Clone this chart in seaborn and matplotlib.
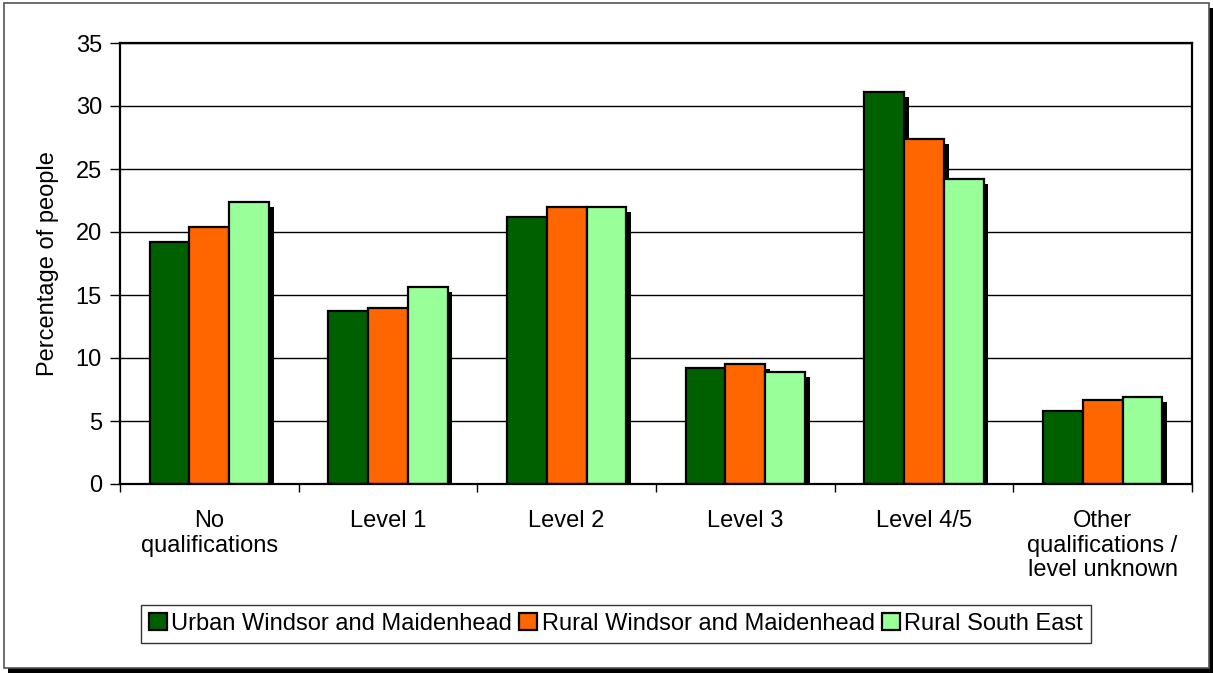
import matplotlib
matplotlib.use("Agg")
import matplotlib.patches as mpatches
import matplotlib.patheffects as pe
import matplotlib.pyplot as plt
import pandas as pd
import seaborn as sns

# Chart data
categories = [
    "No\nqualifications",
    "Level 1",
    "Level 2",
    "Level 3",
    "Level 4/5",
    "Other\nqualifications /\nlevel unknown",
]
areas = [
    "Urban Windsor and Maidenhead",
    "Rural Windsor and Maidenhead",
    "Rural South East",
]
urban_wm = [19.2, 13.7, 21.2, 9.2, 31.1, 5.8]
rural_wm = [20.4, 14.0, 22.0, 9.5, 27.4, 6.7]
rural_se = [22.4, 15.6, 22.0, 8.9, 24.2, 6.9]
colors = ["#006000", "#FF6600", "#99FF99"]
y_ticks = [0, 5, 10, 15, 20, 25, 30, 35]


def main() -> None:
    """Draw the qualifications bar chart"""

    # Long-format table for seaborn
    rows = []
    for area, values in zip(areas, [urban_wm, rural_wm, rural_se]):
        for cat, val in zip(categories, values):
            rows.append({"category": cat, "area": area, "value": val})
    df = pd.DataFrame(rows)

    sns.set_theme(style="white")
    plt.rcParams["font.family"] = ["Liberation Sans", "DejaVu Sans"]
    for key in ("text.color", "axes.labelcolor", "xtick.color", "ytick.color"):
        plt.rcParams[key] = "black"
    fs = 17

    fig = plt.figure(figsize=(12.13, 6.74), dpi=100)
    fig.patch.set_facecolor("white")

    # Outer frame with drop shadow
    W, H = 1213, 674
    fig.add_artist(mpatches.Rectangle(
        (8 / W, 1 - 673 / H), 1205 / W, 665 / H,
        transform=fig.transFigure, facecolor="black", edgecolor="none", zorder=0))
    fig.add_artist(mpatches.Rectangle(
        (4 / W, 1 - 668 / H), 1205 / W, 665 / H,
        transform=fig.transFigure, facecolor="white", edgecolor="#555555",
        linewidth=1.2, zorder=0.5))

    ax = fig.add_axes([120 / W, 1 - 484 / H, 1072 / W, 441 / H])
    ax.set_zorder(2)

    sns.barplot(
        data=df, x="category", y="value", hue="area", hue_order=areas,
        palette=colors, saturation=1, width=0.667, errorbar=None,
        edgecolor="black", linewidth=1.6, legend=False, ax=ax,
    )

    # Drop shadows on bars
    for bar in ax.patches:
        bar.set_path_effects([
            pe.SimplePatchShadow(offset=(3.5, -3.5), shadow_rgbFace="black", alpha=1.0),
            pe.Normal(),
        ])

    ax.set_xlim(-0.5, len(categories) - 0.5)
    ax.set_ylim(0, 35)
    ax.set_yticks(y_ticks)
    ax.set_yticklabels([str(t) for t in y_ticks], fontsize=fs)
    ax.yaxis.grid(True, color="black", linewidth=1.0)
    ax.set_axisbelow(True)
    ax.set_xlabel("")
    ax.set_ylabel("Percentage of people", fontsize=fs, labelpad=12)

    # Category labels centered, ticks between groups
    ax.set_xticks(range(len(categories)))
    ax.set_xticklabels(categories, fontsize=fs, linespacing=1.15, va="top")
    ax.tick_params(axis="x", which="major", length=0, pad=19)
    ax.set_xticks([i - 0.5 for i in range(len(categories) + 1)], minor=True)
    ax.tick_params(axis="x", which="minor", length=6, width=1, color="black",
                   direction="out", bottom=True)
    ax.tick_params(axis="y", length=7, width=1, color="black", direction="out",
                   left=True, pad=6)

    for spine in ax.spines.values():
        spine.set_color("black")
        spine.set_linewidth(1.6)
        spine.set_visible(True)

    # Legend below the chart
    handles = [mpatches.Patch(facecolor=c, edgecolor="black", linewidth=1.6) for c in colors]
    leg = fig.legend(
        handles, areas, loc="center", bbox_to_anchor=(616 / W, 1 - 624 / H),
        ncol=3, fontsize=fs, frameon=True, fancybox=False, shadow=False,
        handlelength=0.75, handleheight=0.75, handletextpad=0.2,
        columnspacing=0.3, borderpad=0.35, borderaxespad=0,
    )
    leg.get_frame().set_edgecolor("black")
    leg.get_frame().set_linewidth(1.0)
    leg.set_zorder(3)

    fig.savefig("out.png", dpi=100, facecolor="white")
    plt.close(fig)


if __name__ == "__main__":
    main()
